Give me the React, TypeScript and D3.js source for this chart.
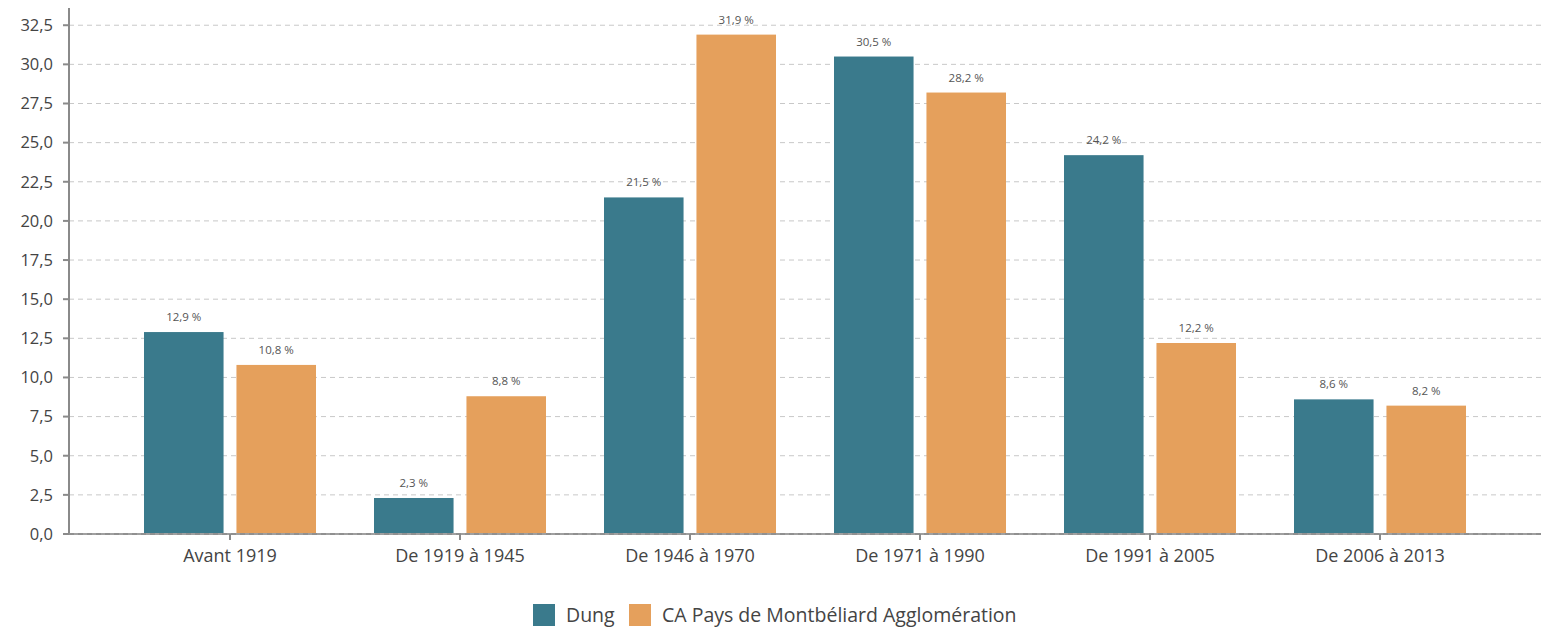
import * as d3 from "d3";
import React from "react";

const categories = ["Avant 1919", "De 1919 à 1945", "De 1946 à 1970", "De 1971 à 1990", "De 1991 à 2005", "De 2006 à 2013"];
const seriesNames = ["Dung", "CA Pays de Montbéliard Agglomération"];
const dungValues = [12.9, 2.3, 21.5, 30.5, 24.2, 8.6];
const caValues = [10.8, 8.8, 31.9, 28.2, 12.2, 8.2];
const yTicks = [0, 2.5, 5, 7.5, 10, 12.5, 15, 17.5, 20, 22.5, 25, 27.5, 30, 32.5];
const colors = ["#3a7a8c", "#e5a05c"];

const fmt = (v: number) => v.toFixed(1).replace(".", ",");

export default function App() {
  const width = 1551;
  const height = 628;
  const margin = { top: 8, right: 10, bottom: 94, left: 69 };
  const font = "'Open Sans', sans-serif";

  const x = d3.scaleBand().domain(categories).range([margin.left, width - margin.right]).paddingOuter(0.2).paddingInner(0);
  const y = d3.scaleLinear().domain([0, 33.6]).range([height - margin.bottom, margin.top]);
  // two bars of 80px with a 12px gap, centred in each band
  const inner = d3.scaleBand().domain(seriesNames).range([0, 172]).paddingInner(12 / 86);
  const groupOffset = (x.bandwidth() - 172) / 2;

  const series = [dungValues, caValues];

  return (
    <svg width={width} height={height} style={{ position: "absolute", left: 0, top: 0 }} fontFamily={font}>
      {/* grid */}
      {yTicks.map(t => (
        <line key={"g" + t} x1={margin.left} x2={width - margin.right} y1={y(t)} y2={y(t)}
          stroke="#c8c8c8" strokeDasharray="5,4" strokeWidth={1} />
      ))}
      {/* bars */}
      {series.map((vals, si) =>
        categories.map((c, i) => {
          const bx = (x(c) as number) + groupOffset + (inner(seriesNames[si]) as number);
          const bw = inner.bandwidth();
          return (
            <g key={si + "-" + i}>
              <rect x={bx} y={y(vals[i])} width={bw} height={y(0) - y(vals[i])} fill={colors[si]} />
              <text x={bx + bw / 2} y={y(vals[i]) - 11} textAnchor="middle" fontSize={11.5} fill="#555">
                {fmt(vals[i]) + " %"}
              </text>
            </g>
          );
        })
      )}
      {/* y axis */}
      <line x1={margin.left} x2={margin.left} y1={margin.top} y2={y(0) + 1} stroke="#8a8a8a" strokeWidth={2} />
      {yTicks.map(t => (
        <g key={"y" + t}>
          <line x1={margin.left - 6} x2={margin.left} y1={y(t)} y2={y(t)} stroke="#8a8a8a" strokeWidth={2} />
          <text x={margin.left - 16} y={y(t)} dy="0.35em" textAnchor="end" fontSize={16.5} fill="#444">{fmt(t)}</text>
        </g>
      ))}
      {/* x axis */}
      <line x1={margin.left} x2={width - margin.right} y1={y(0)} y2={y(0)} stroke="#a0a0a0" strokeWidth={2} />
      <line x1={margin.left} x2={width - margin.right} y1={y(0)} y2={y(0)} stroke="#808080" strokeWidth={1} strokeDasharray="5,4" />
      {categories.map(c => {
        const cx = (x(c) as number) + x.bandwidth() / 2;
        return (
          <g key={c}>
            <line x1={cx} x2={cx} y1={y(0)} y2={y(0) + 6} stroke="#8a8a8a" strokeWidth={2} />
            <text x={cx} y={y(0) + 28} textAnchor="middle" fontSize={18} fill="#444">{c}</text>
          </g>
        );
      })}
      {/* legend */}
      <g transform="translate(533,604)">
        <rect x={0} y={0} width={22} height={22} fill={colors[0]} />
        <text x={33} y={11} dy="0.35em" fontSize={19.5} fill="#444">{seriesNames[0]}</text>
        <rect x={96} y={0} width={22} height={22} fill={colors[1]} />
        <text x={129} y={11} dy="0.35em" fontSize={19.5} fill="#444">{seriesNames[1]}</text>
      </g>
    </svg>
  );
}
